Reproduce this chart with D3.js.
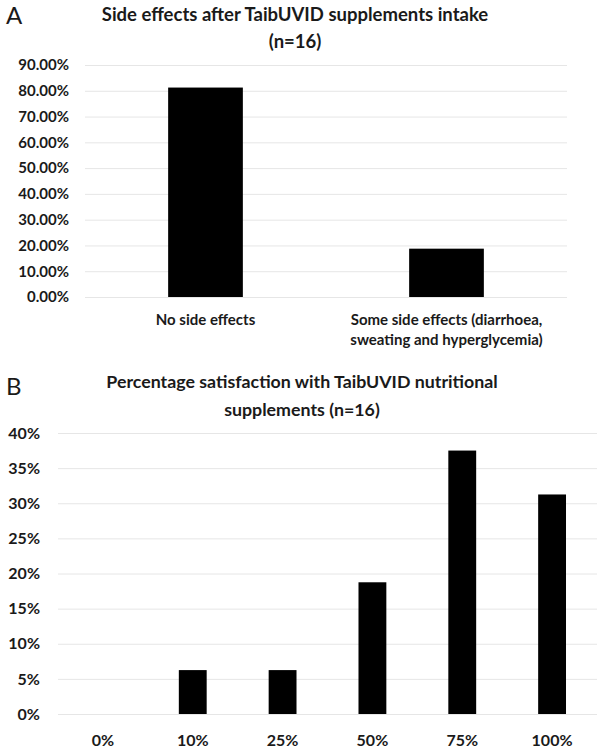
<!DOCTYPE html>
<html>
<head>
<meta charset="utf-8">
<script src="https://cdn.jsdelivr.net/npm/d3@7"></script>
<style>
  html, body { margin: 0; padding: 0; background: #fff; }
  svg { display: block; }
  text { font-family: Lato, "Open Sans", sans-serif; fill: #1a1a1a; }
</style>
</head>
<body>
<svg id="chart" width="600" height="753"></svg>
<script>
// ---- Data ----
const catsA = [["No side effects"], ["Some side effects (diarrhoea,", "sweating and hyperglycemia)"]];
const valuesA = [0.8125, 0.1875];
const ticksA = [0, 0.1, 0.2, 0.3, 0.4, 0.5, 0.6, 0.7, 0.8, 0.9];
const titleA = ["Side effects after TaibUVID supplements intake", "(n=16)"];

const catsB = ["0%", "10%", "25%", "50%", "75%", "100%"];
const valuesB = [0, 0.0625, 0.0625, 0.1875, 0.375, 0.3125];
const ticksB = [0, 0.05, 0.1, 0.15, 0.2, 0.25, 0.3, 0.35, 0.4];
const titleB = ["Percentage satisfaction with TaibUVID nutritional", "supplements (n=16)"];

const svg = d3.select("#chart");

function panel(cfg) {
  const g = svg.append("g");
  const x = d3.scaleBand().domain(cfg.cats.map((c, i) => i)).range([cfg.x0, cfg.x1]).paddingInner(0.69).paddingOuter(0.345);
  const y = d3.scaleLinear().domain([0, cfg.ymax]).range([cfg.y0, cfg.y1]);

  // gridlines + tick labels
  const yAxis = d3.axisLeft(y).tickValues(cfg.ticks).tickFormat(cfg.fmt).tickSize(-(cfg.x1 - cfg.x0)).tickPadding(cfg.x0 - cfg.tickRight);
  const ax = g.append("g").attr("transform", `translate(${cfg.x0},0)`).call(yAxis);
  ax.select(".domain").remove();
  ax.selectAll(".tick line").attr("stroke", "#e6e6e6").attr("stroke-width", 1);
  ax.selectAll(".tick text").attr("font-size", cfg.tickSize).attr("font-weight", "bold").attr("fill", "#1a1a1a").attr("font-family", "Lato, sans-serif");

  // bars
  g.selectAll("rect.bar").data(cfg.values).enter().append("rect")
    .attr("class", "bar")
    .attr("x", (d, i) => x(i))
    .attr("width", x.bandwidth())
    .attr("y", d => y(d))
    .attr("height", d => y(0) - y(d))
    .attr("fill", "#000");

  // category labels
  cfg.cats.forEach((c, i) => {
    const lines = Array.isArray(c) ? c : [c];
    const t = g.append("text")
      .attr("x", x(i) + x.bandwidth() / 2)
      .attr("y", cfg.catY)
      .attr("text-anchor", "middle")
      .attr("font-size", cfg.catSize)
      .attr("font-weight", "bold");
    lines.forEach((l, k) => t.append("tspan").attr("x", x(i) + x.bandwidth() / 2).attr("dy", k === 0 ? "0.35em" : cfg.catLH).text(l));
  });

  // title
  cfg.title.forEach((l, k) => {
    g.append("text").attr("x", cfg.titleX).attr("y", cfg.titleY[k]).attr("dy", "0.35em")
      .attr("text-anchor", "middle").attr("font-size", cfg.titleSize).attr("font-weight", "bold").text(l);
  });

  // panel letter
  g.append("text").attr("x", 6).attr("y", cfg.letterY).attr("dy", "0.35em")
    .attr("font-size", 24).attr("font-family", "Liberation Sans, Arial, sans-serif").attr("fill", "#111").text(cfg.letter);
}

panel({
  cats: catsA, values: valuesA, ticks: ticksA, ymax: 0.9, fmt: d3.format(".2%"),
  x0: 85, x1: 567, y0: 297, y1: 65, tickRight: 69, tickSize: 15, catSize: 15, catY: 320, catLH: 20,
  title: titleA, titleX: 295, titleY: [15, 42], titleSize: 18.5, letter: "A", letterY: 16
});

panel({
  cats: catsB, values: valuesB, ticks: ticksB, ymax: 0.4, fmt: d3.format(".0%"),
  x0: 58, x1: 597, y0: 714, y1: 433, tickRight: 40, tickSize: 16, catSize: 16, catY: 740, catLH: 20,
  title: titleB, titleX: 302, titleY: [382, 410], titleSize: 17.8, letter: "B", letterY: 387
});
</script>
</body>
</html>
